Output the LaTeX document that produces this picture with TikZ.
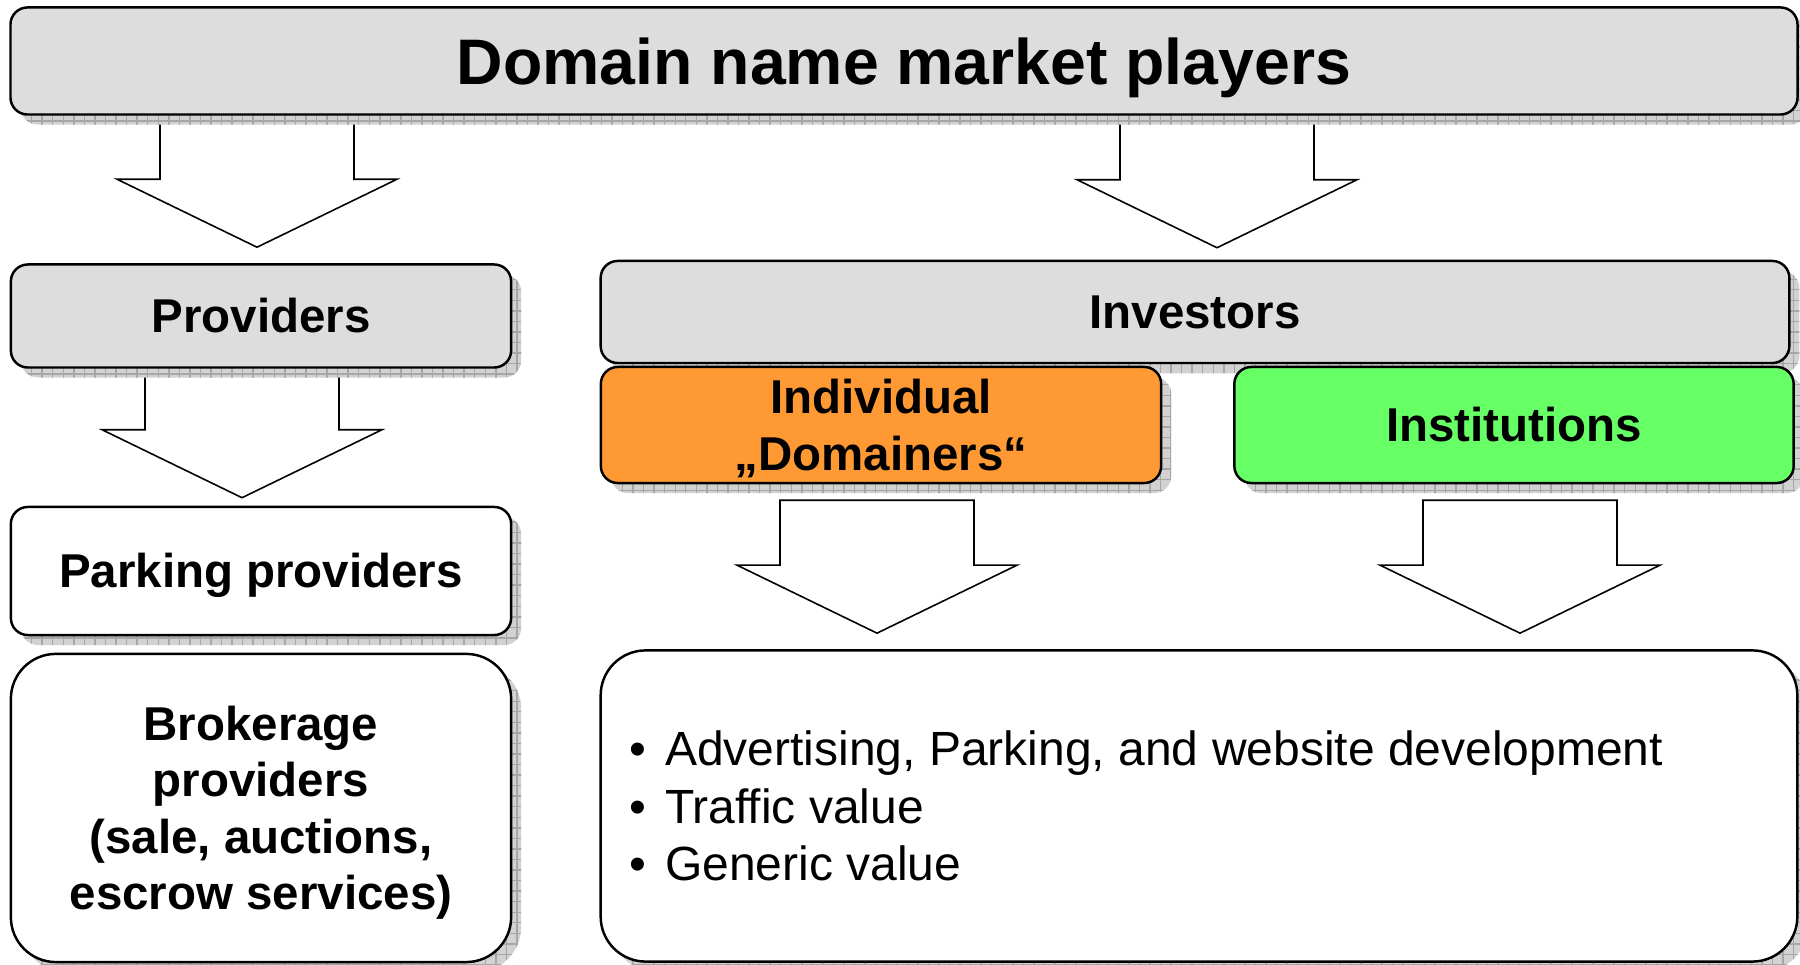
\documentclass[tikz,border=0pt]{standalone}
\usepackage{fontspec}
\setmainfont{Liberation Sans}
\usepackage{xcolor}
\usetikzlibrary{calc,shadows,patterns}
\definecolor{boxgray}{HTML}{DDDDDD}
\definecolor{domorange}{HTML}{FF9933}
\definecolor{instgreen}{HTML}{66FF66}
\pgfdeclarelayer{background}
\pgfsetlayers{background,main}
\newcommand{\bigarrow}[2]{\draw[blockarrow]($(#1)+(-97,0)$)--($(#2)+(-97,-68)$)--($(#2)+(-140,-68)$)--(#2)
--($(#2)+(140,-68)$)--($(#2)+(97,-68)$)--($(#1)+(97,0)$)--cycle;}
\newcommand{\boxlines}[1]{\begin{tabular}[b]{@{}c@{}}#1\end{tabular}}

\begin{document}
\begin{tikzpicture}[x=0.01cm,y=-0.01cm,
box/.style={draw,line width=0.7pt,rounded corners=0.17cm,fill=boxgray,inner sep=0pt,
  font=\fontsize{13.5}{16.1}\selectfont\bfseries,text height=9.67pt,text depth=0pt,
  drop shadow={shadow xshift=0.1cm,shadow yshift=-0.1cm,fill=gray!35,opacity=1,
    postaction={pattern=grid,pattern color=gray!70}}},
bigbox/.style={box,rounded corners=0.45cm,fill=white},
blockarrow/.style={draw,line width=0.45pt,fill=white,line join=miter}]
\useasboundingbox (0,0) rectangle (1800,965);
\node[box,minimum width=17.86cm,minimum height=1.07cm,font=\fontsize{18.3}{22}\selectfont\bfseries,text height=13.1pt](top) at (904,61){Domain name market players};
\node[box,minimum width=5cm,minimum height=1.03cm](prov) at (261,316){Providers};
\node[box,fill=white,minimum width=5cm,minimum height=1.28cm](park) at (261,571){Parking providers};
\node[bigbox,minimum width=5cm,minimum height=3.08cm,text height=57.97pt](brok) at (261,808){\boxlines{Brokerage\\providers\\(sale, auctions,\\escrow services)}};
\node[box,minimum width=11.88cm,minimum height=1.02cm](inv) at (1195,312){Investors};
\node[box,fill=domorange,minimum width=5.6cm,minimum height=1.16cm,text height=25.77pt](indiv) at (881,425){\boxlines{Individual\\„Domainers“}};
\node[box,fill=instgreen,minimum width=5.59cm,minimum height=1.16cm](inst) at (1514,425){Institutions};
\node[bigbox,minimum width=11.96cm,minimum height=3.11cm](uses) at (1199,806){};
\node[anchor=west,align=left,inner sep=0pt,font=\fontsize{13.65}{16.3}\selectfont](uselist) at ($(uses.west)+(29,0)$)
{\makebox[0.36cm][l]{\textbullet}Advertising, Parking, and website development\\
\makebox[0.36cm][l]{\textbullet}Traffic value\\
\makebox[0.36cm][l]{\textbullet}Generic value};
% block arrows
\coordinate(t1) at ($(prov.north)+(-4,-16)$);
\coordinate(s1) at (t1 |- top.south);
\coordinate(t2) at ($(inv.north)+(22,-12)$);
\coordinate(s2) at (t2 |- top.south);
\coordinate(t3) at ($(park.north)+(-19,-8)$);
\coordinate(s3) at (t3 |- prov.south);
\coordinate(t4) at ($(uses.north -| indiv.south)+(-4,-16)$);
\coordinate(s4) at ($(t4 |- indiv.south)+(0,16)$);
\coordinate(t5) at ($(uses.north -| inst.south)+(6,-16)$);
\coordinate(s5) at ($(t5 |- inst.south)+(0,16)$);
\begin{pgfonlayer}{background}
\bigarrow{s1}{t1}
\bigarrow{s2}{t2}
\bigarrow{s3}{t3}
\bigarrow{s4}{t4}
\bigarrow{s5}{t5}
\end{pgfonlayer}
\end{tikzpicture}
\end{document}
